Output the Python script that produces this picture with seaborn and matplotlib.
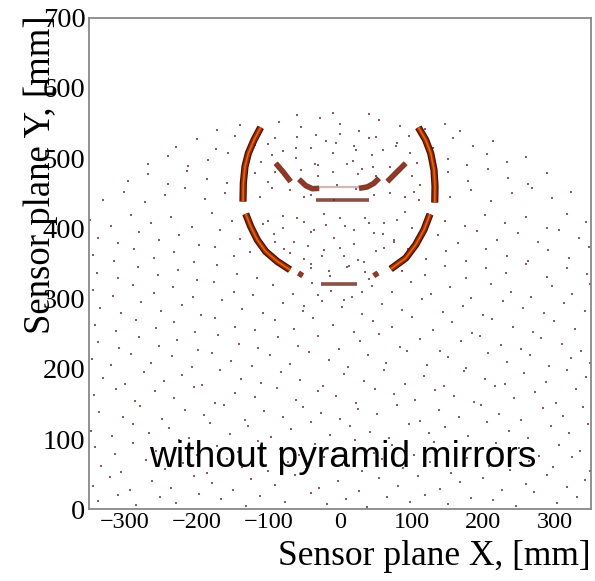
import matplotlib
matplotlib.use("Agg")
import matplotlib.pyplot as plt
import seaborn as sns
import pandas as pd
from matplotlib.ticker import MultipleLocator

# ---------------- data (mm) ----------------
x_limits = [-350, 350]
y_limits = [0, 700]
x_ticks = [-300, -200, -100, 0, 100, 200, 300]
y_ticks = [0, 100, 200, 300, 400, 500, 600, 700]
x_title = "Sensor plane X, [mm]"
y_title = "Sensor plane Y, [mm]"
note_text = "without pyramid mirrors"

# Cherenkov ring arcs (centre line of each band)
arc_upper_left = [(-110.6, 543.9), (-119.9, 525.9), (-127.8, 507.0), (-132.5, 487.9), (-134.8, 464.3), (-135.3, 438.2)]
arc_lower_left = [(-131.5, 420.7), (-124.5, 402.6), (-115.3, 383.7), (-103.6, 367.1), (-87.4, 352.9), (-69.7, 341.1)]
arc_upper_right = [(109.2, 543.9), (119.5, 525.9), (126.5, 507.0), (131.1, 483.2), (132.5, 459.5), (132.1, 436.8)]
arc_lower_right = [(125.5, 420.3), (117.1, 398.0), (105.5, 376.6), (91.6, 357.7), (70.7, 342.1)]

# inner reflections
wing_left = [(-89.7, 492.8), (-79.0, 480.0), (-68.8, 466.6)]
wing_right = [(66.0, 466.6), (79.0, 480.0), (91.6, 492.8)]
bar_top_left = [(-57.2, 470.0), (-48.0, 461.0), (-38.6, 456.5), (-29.0, 457.0)]
bar_top_right = [(26.5, 457.0), (38.0, 459.0), (47.0, 464.0), (54.4, 471.4)]
bar_top_mid = [(-29.0, 459.0), (26.5, 459.0)]
bar_mid = [(-34.0, 440.0), (40.0, 440.0)]
blob_left = [(-58.0, 336.5), (-52.0, 332.5)]
blob_right = [(47.0, 332.5), (53.0, 336.5)]
bar_low = [(-27.0, 321.0), (24.0, 321.0)]

# scattered background hits
bg_low = [
    (-338, 12), (-309, 20), (-284, 6), (-251, 17), (-229, 9), (-197, 22), (-166, 14), (-131, 4), (-112, 19), (-77, 11),
    (-41, 23), (-18, 8), (9, 15), (38, 3), (66, 18), (97, 10), (118, 21), (151, 7), (183, 16), (214, 13), (246, 5),
    (271, 24), (303, 9), (331, 17),
    (-344, 33), (-321, 46), (-293, 28), (-262, 40), (-236, 31), (-203, 48), (-178, 37), (-149, 27), (-124, 43), (-90, 35),
    (-63, 49), (-29, 30), (-3, 41), (27, 26), (54, 45), (81, 33), (109, 47), (140, 29), (168, 39), (199, 44), (226, 27),
    (259, 36), (288, 49), (316, 32), (342, 42),
    (-333, 61), (-305, 53), (-270, 70), (-244, 58), (-219, 66), (-185, 52), (-158, 72), (-136, 60), (-101, 55), (-72, 68),
    (-48, 57), (-22, 74), (3, 63), (31, 54), (59, 71), (88, 59), (126, 67), (155, 51), (177, 73), (208, 62), (237, 56),
    (264, 69), (297, 60), (324, 74), (349, 55),
    (-341, 88), (-314, 79), (-288, 95), (-257, 83), (-225, 99), (-199, 77), (-171, 90), (-142, 81), (-115, 97), (-84, 86),
    (-57, 78), (-35, 93), (-9, 84), (21, 99), (48, 80), (73, 91), (103, 77), (131, 96), (162, 85), (190, 79), (218, 94),
    (249, 87), (277, 76), (306, 92), (335, 83),
    (-347, 112), (-318, 104), (-289, 121), (-266, 109), (-238, 116), (-210, 101), (-181, 123), (-154, 107), (-128, 118),
    (-96, 103), (-69, 114), (-40, 124), (-14, 106), (14, 119), (42, 110), (69, 102), (96, 122), (124, 108), (147, 117),
    (179, 105), (205, 124), (235, 112), (262, 101), (294, 119), (320, 108), (346, 122),
    (-336, 139), (-302, 131), (-279, 147), (-248, 128), (-216, 142), (-190, 134), (-162, 149), (-133, 127), (-106, 140),
    (-80, 132), (-51, 146), (-26, 137), (0, 128), (25, 143), (52, 135), (79, 149), (112, 126), (138, 141), (166, 131),
    (196, 148), (222, 136), (253, 127), (283, 144), (311, 133), (339, 146),
    (-343, 163), (-313, 171), (-286, 154), (-258, 168), (-232, 158), (-204, 174), (-175, 152), (-147, 166), (-119, 160),
    (-88, 173), (-61, 155), (-31, 169), (-5, 161), (23, 152), (49, 172), (75, 164), (104, 156), (133, 170), (159, 162),
    (187, 153), (216, 175), (243, 159), (272, 167), (301, 151), (329, 172),
    (-330, 187), (-300, 178), (-273, 196), (-246, 183), (-220, 191), (-193, 177), (-167, 199), (-138, 186), (-110, 180),
    (-82, 195), (-56, 184), (-24, 176), (6, 193), (34, 182), (61, 198), (91, 179), (117, 190), (145, 176), (173, 197),
    (202, 185), (230, 178), (257, 194), (287, 181), (317, 199), (343, 188),
]
bg_mid = [
    (-346, 214), (-319, 205), (-291, 221), (-263, 208), (-234, 218), (-207, 202), (-179, 223), (-152, 211), (-123, 204),
    (-98, 219), (-70, 207), (-43, 224), (-16, 213), (11, 203), (39, 220), (64, 209), (93, 225), (121, 206), (150, 217),
    (176, 201), (206, 222), (233, 210), (265, 219), (292, 204), (322, 215), (348, 208),
    (-337, 238), (-308, 229), (-280, 246), (-253, 233), (-227, 241), (-198, 227), (-170, 248), (-141, 236), (-114, 230),
    (-86, 245), (-58, 232), (-30, 247), (-2, 228), (28, 240), (55, 249), (83, 231), (112, 243), (139, 226), (169, 239),
    (195, 247), (224, 234), (252, 228), (280, 244), (310, 236), (336, 226),
    (-342, 262), (-312, 254), (-284, 270), (-257, 258), (-231, 266), (-202, 252), (-174, 273), (-146, 260), (-118, 255),
    (-91, 269), (-64, 257), (-38, 272), (-10, 262), (19, 253), (46, 268), (73, 259), (101, 274), (129, 256), (156, 266),
    (184, 251), (212, 271), (241, 260), (269, 253), (298, 268), (327, 257),
    (-334, 286), (-306, 279), (-277, 295), (-249, 283), (-221, 291), (-194, 277), (-165, 298), (-137, 285), (-108, 280),
    (-80, 294), (-52, 282), (-25, 297), (3, 288), (31, 278), (58, 293), (86, 284), (115, 299), (143, 281), (171, 290),
    (199, 276), (227, 296), (255, 287), (284, 279), (313, 294), (341, 283),
    (-345, 312), (-316, 304), (-288, 320), (-260, 308), (-233, 316), (-205, 302), (-176, 323), (-148, 310), (-121, 305),
    (-94, 319), (-66, 307), (-39, 322), (-12, 311), (17, 303), (44, 318), (72, 309), (99, 324), (127, 306), (154, 316),
    (182, 301), (210, 321), (238, 310), (267, 303), (295, 318), (324, 307), (349, 321),
    (-339, 337), (-310, 329), (-282, 345), (-254, 333), (-226, 341), (-199, 327), (-171, 348), (-143, 335), (-116, 330),
    (-41, 344), (-14, 332), (13, 347), (40, 328), (86, 340), (118, 333), (147, 346), (175, 329), (203, 343), (231, 336),
    (260, 349), (288, 331), (316, 344), (344, 335),
    (-344, 362), (-315, 354), (-287, 370), (-259, 358), (-231, 366), (-204, 352), (-175, 373), (-148, 360), (-125, 367),
    (-78, 371), (-50, 357), (-22, 369), (6, 360), (33, 352), (61, 372), (120, 356), (148, 368), (176, 353), (204, 371),
    (233, 361), (262, 354), (290, 369), (319, 358), (347, 373),
    (-337, 387), (-309, 379), (-280, 395), (-252, 383), (-224, 391), (-196, 377), (-168, 398), (-140, 385), (-92, 392),
    (-64, 380), (-36, 397), (-8, 386), (20, 378), (47, 394), (75, 383), (136, 390), (164, 379), (191, 396), (219, 384),
    (248, 393), (276, 380), (305, 397), (333, 386),
]
bg_high = [
    (-348, 412), (-320, 404), (-292, 419), (-263, 408), (-235, 416), (-207, 402), (-178, 422), (-150, 410), (-107, 406),
    (-79, 418), (-50, 409), (-22, 421), (7, 404), (35, 415), (62, 408), (90, 423), (146, 411), (174, 403), (202, 419),
    (230, 407), (259, 416), (288, 401), (316, 420), (343, 409),
    (-330, 441), (-301, 452), (-272, 438), (-244, 447), (-216, 457), (-188, 442), (-160, 451), (-112, 445), (-95, 458),
    (-40, 448), (-8, 440), (22, 456), (48, 447), (103, 452), (110, 441), (154, 444), (183, 455), (211, 439), (240, 450),
    (268, 458), (296, 443), (322, 452),
    (-296, 468), (-268, 477), (-240, 463), (-213, 482), (-185, 471), (-157, 464), (-118, 479), (-100, 466), (-55, 483),
    (-30, 474), (-4, 462), (25, 478), (46, 488), (100, 475), (112, 462), (150, 480), (178, 467), (206, 484), (234, 472),
    (262, 463), (289, 479),
    (-268, 492), (-240, 503), (-212, 489), (-184, 498), (-156, 507), (-110, 494), (-95, 505), (-62, 500), (-35, 491),
    (-10, 508), (18, 496), (44, 504), (70, 488), (98, 507), (108, 493), (150, 499), (177, 490), (205, 506), (233, 495),
    (260, 502),
    (-228, 516), (-200, 527), (-173, 513), (-146, 531), (-118, 519), (-90, 528), (-62, 514), (-33, 533), (-6, 521),
    (22, 512), (50, 530), (78, 518), (96, 532), (130, 515), (158, 529), (186, 517), (214, 525),
    (-172, 540), (-140, 547), (-112, 538), (-85, 552), (-55, 544), (-28, 557), (0, 548), (27, 539), (55, 555), (83, 546),
    (118, 541), (146, 549), (168, 538), (-60, 561), (40, 563), (-10, 565),
]
bg_ring = [
    (-100, 520), (-80, 510), (-60, 530), (-40, 515), (-20, 525), (0, 535), (20, 518), (40, 528), (60, 512), (80, 522),
    (-90, 480), (-70, 455), (-50, 445), (-30, 490), (-10, 480), (10, 492), (30, 485), (50, 475), (70, 450), (90, 445),
    (-100, 410), (-80, 400), (-60, 415), (-40, 395), (-20, 405), (0, 415), (20, 398), (40, 408), (60, 392), (80, 412),
    (100, 400), (-90, 380), (-70, 365), (-45, 375), (-25, 360), (0, 372), (25, 355), (50, 368), (75, 380), (95, 370),
    (-40, 350), (-15, 340), (10, 345), (35, 338), (-30, 305), (5, 298), (30, 310), (-50, 290),
]

# ---------------- build tables ----------------
def seg_df(named):
    rows = []
    for name, pts in named.items():
        for i, (x, y) in enumerate(pts):
            rows.append({"seg": name, "order": i, "x": x, "y": y})
    return pd.DataFrame(rows)

arcs = seg_df({"ul": arc_upper_left, "ll": arc_lower_left, "ur": arc_upper_right, "lr": arc_lower_right})
feats_strong = seg_df({"wl": wing_left, "wr": wing_right, "btl": bar_top_left, "btr": bar_top_right,
                       "bl": blob_left, "br": blob_right})
feats_weak = seg_df({"bm": bar_mid, "blow": bar_low})
feats_faint = seg_df({"btm": bar_top_mid})
hits = pd.DataFrame(bg_low + bg_mid + bg_high + bg_ring, columns=["x", "y"])

# ---------------- figure ----------------
sns.set_style("white")
plt.rcParams["font.family"] = ["Liberation Serif", "DejaVu Serif"]
plt.rcParams["axes.unicode_minus"] = True
plt.rcParams["text.color"] = "black"
plt.rcParams["axes.labelcolor"] = "black"
plt.rcParams["xtick.labelcolor"] = "black"
plt.rcParams["ytick.labelcolor"] = "black"

fig = plt.figure(figsize=(5.95, 5.81), dpi=100)
ax = fig.add_axes([89 / 595, 1 - 509.3 / 581, 502 / 595, (509.3 - 17.7) / 581])

sns.scatterplot(data=hits, x="x", y="y", ax=ax, marker="s", s=4, color="#6e3434",
                linewidth=0, alpha=0.8, legend=False, zorder=2)

def draw(df, lw, color, alpha=1.0, z=3):
    sns.lineplot(data=df, x="x", y="y", units="seg", estimator=None, sort=False, ax=ax,
                 color=color, lw=lw, alpha=alpha, legend=False, zorder=z,
                 solid_capstyle="butt")

draw(arcs, 5.2, "#4e0e03", z=3)
draw(arcs, 3.4, "#a22a02", z=4)
draw(arcs, 1.2, "#dc6a10", z=5)
draw(feats_strong, 4.0, "#6a1a0c", alpha=0.85, z=3)
draw(feats_strong, 1.2, "#a8341a", alpha=0.8, z=4)
draw(feats_weak, 2.6, "#6e2418", alpha=0.8, z=3)
draw(feats_faint, 1.6, "#b08a8a", alpha=0.6, z=3)

ax.set_xlim(*x_limits)
ax.set_ylim(*y_limits)
ax.set_xticks(x_ticks)
ax.set_yticks(y_ticks)
ax.xaxis.set_minor_locator(MultipleLocator(20))
ax.yaxis.set_minor_locator(MultipleLocator(20))
ax.tick_params(which="both", direction="in", top=False, right=False, color="#555555", width=1.0)
ax.tick_params(which="major", length=10)
ax.tick_params(which="minor", length=5)
ax.tick_params(axis="x", which="major", labelsize=17.5, pad=2, labelcolor="black")
ax.tick_params(axis="y", which="major", labelsize=20.5, pad=2.5, labelcolor="black")
for sp in ax.spines.values():
    sp.set_color("#888888")
    sp.set_linewidth(1.3)

ax.set_xlabel(x_title, fontsize=25.5, loc="right", color="black")
ax.set_ylabel(y_title, fontsize=26.5, loc="top", color="black")
ax.xaxis.set_label_coords(1.0, -0.063)
ax.yaxis.set_label_coords(-0.062, 1.005)

ax.text(-266, 60, note_text, fontsize=26.8, family=["Liberation Sans", "DejaVu Sans"],
        ha="left", va="baseline", color="black", zorder=6)

fig.savefig("out.png", dpi=100)
